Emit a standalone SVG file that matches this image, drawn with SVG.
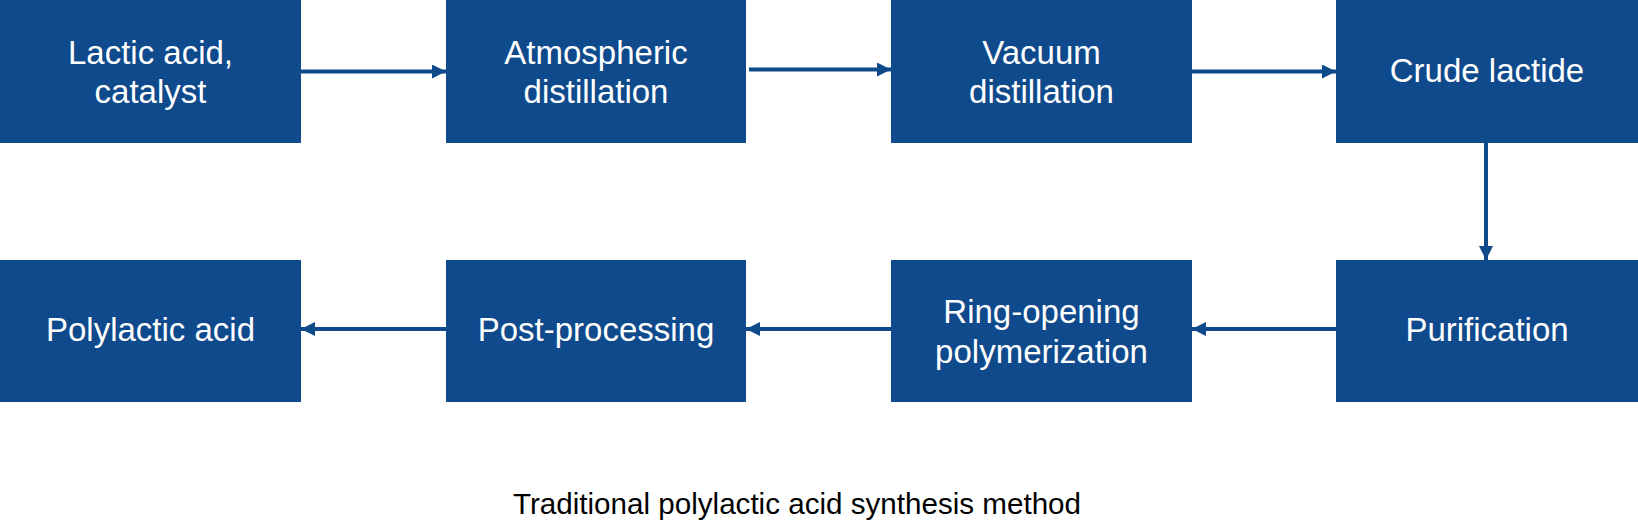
<svg xmlns="http://www.w3.org/2000/svg" width="1638" height="529" viewBox="0 0 1638 529">
<defs>
<style>
.box{fill:#0F4A8C;}
.t{fill:#FFFFFF;font-family:"Liberation Sans",Arial,sans-serif;font-size:33px;text-anchor:middle;}
.cap{fill:#000000;font-family:"Liberation Sans",Arial,sans-serif;font-size:29.6px;text-anchor:middle;}
.c{stroke:#0F4A8C;stroke-width:4;fill:none;marker-end:url(#ah);}
</style>
<marker id="ah" viewBox="0 0 10 10" refX="10" refY="5" markerWidth="3.5" markerHeight="3.5" orient="auto" markerUnits="strokeWidth">
<path d="M0,0 L10,5 L0,10 Z" fill="#0F4A8C"/>
</marker>
</defs>
<rect width="1638" height="529" fill="#FFFFFF"/>
<g id="connectors">
<line class="c" x1="301" y1="71.5" x2="446" y2="71.5"/>
<line class="c" x1="749" y1="69.5" x2="891" y2="69.5"/>
<line class="c" x1="1192" y1="71.5" x2="1336" y2="71.5"/>
<line class="c" x1="1486" y1="143" x2="1486" y2="260"/>
<line class="c" x1="1336" y1="329" x2="1192" y2="329"/>
<line class="c" x1="891" y1="329" x2="746" y2="329"/>
<line class="c" x1="446" y1="329" x2="301" y2="329"/>
</g>
<g id="n1"><rect class="box" x="0" y="0" width="301" height="143"/><text class="t" x="150.5" y="64">Lactic acid,<tspan x="150.5" dy="39">catalyst</tspan></text></g>
<g id="n2"><rect class="box" x="446" y="0" width="300" height="143"/><text class="t" x="596" y="64">Atmospheric<tspan x="596" dy="39">distillation</tspan></text></g>
<g id="n3"><rect class="box" x="891" y="0" width="301" height="143"/><text class="t" x="1041.5" y="64">Vacuum<tspan x="1041.5" dy="39">distillation</tspan></text></g>
<g id="n4"><rect class="box" x="1336" y="0" width="302" height="143"/><text class="t" x="1487" y="82">Crude lactide</text></g>
<g id="n5"><rect class="box" x="1336" y="260" width="302" height="142"/><text class="t" x="1487" y="341">Purification</text></g>
<g id="n6"><rect class="box" x="891" y="260" width="301" height="142"/><text class="t" x="1041.5" y="323">Ring-opening<tspan x="1041.5" dy="40">polymerization</tspan></text></g>
<g id="n7"><rect class="box" x="446" y="260" width="300" height="142"/><text class="t" x="596" y="341">Post-processing</text></g>
<g id="n8"><rect class="box" x="0" y="260" width="301" height="142"/><text class="t" x="150.5" y="341">Polylactic acid</text></g>
<text class="cap" x="797" y="514">Traditional polylactic acid synthesis method</text>
</svg>
